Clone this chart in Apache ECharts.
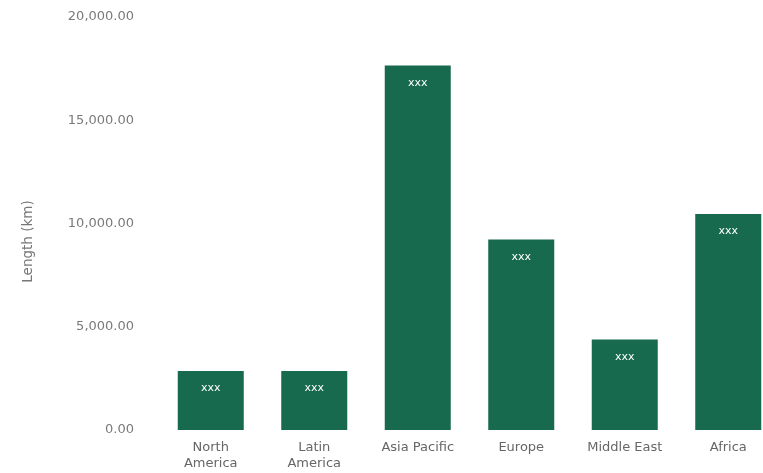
<!DOCTYPE html>
<html><head><meta charset="utf-8">
<script src="https://cdn.jsdelivr.net/npm/echarts@6/dist/echarts.min.js"></script>
<style>html,body{margin:0;padding:0;background:#fff;overflow:hidden}#c{width:780px;height:473px}</style>
</head><body><div id="c"></div>
<script>
const categories = ["North\nAmerica", "Latin\nAmerica", "Asia Pacific", "Europe", "Middle East", "Africa"];
const values = [2860, 2860, 17650, 9230, 4380, 10460];
const barLabels = ["xxx", "xxx", "xxx", "xxx", "xxx", "xxx"];
const axisName = "Length (km)";

const FONT = 'DejaVu Sans';
const chart = echarts.init(document.getElementById('c'));
chart.setOption({
  animation: false,
  grid: { left: 159, right: 0, top: 17, bottom: 43 },
  xAxis: {
    type: 'category', data: categories,
    axisLine: { show: false }, axisTick: { show: false },
    axisLabel: { color: '#666', fontSize: 13, fontFamily: FONT, margin: 10, lineHeight: 16, interval: 0 }
  },
  yAxis: {
    type: 'value', min: 0, max: 20000, interval: 5000,
    name: axisName, nameLocation: 'middle', nameGap: 124, nameRotate: 90,
    nameTextStyle: { color: '#777', fontSize: 13.5, fontFamily: FONT, padding: [0, 36, 0, 0] },
    splitLine: { show: false }, axisLine: { show: false }, axisTick: { show: false },
    axisLabel: { color: '#7a7a7a', fontSize: 13, fontFamily: FONT, margin: 25,
      formatter: v => v.toLocaleString('en-US', { minimumFractionDigits: 2, maximumFractionDigits: 2 }) }
  },
  series: [{
    type: 'bar', data: values, barWidth: 66,
    itemStyle: { color: '#186a4f' },
    label: { show: true, position: 'insideTop', distance: 12, color: '#fff', fontSize: 11,
      fontFamily: FONT, formatter: p => barLabels[p.dataIndex] }
  }]
});
</script></body></html>
